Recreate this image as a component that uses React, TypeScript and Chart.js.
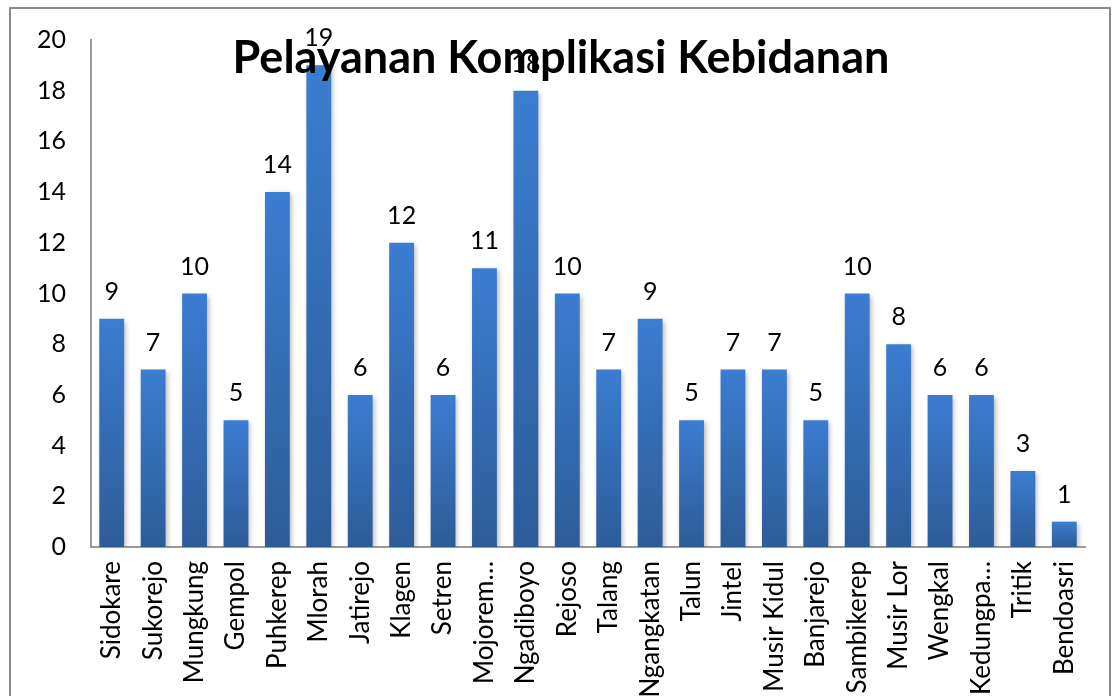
import { useEffect, useRef } from "react";
import { Chart, registerables } from "chart.js";

Chart.register(...registerables);

const categories = [
  "Sidokare", "Sukorejo", "Mungkung", "Gempol", "Puhkerep", "Mlorah", "Jatirejo", "Klagen",
  "Setren", "Mojorem…", "Ngadiboyo", "Rejoso", "Talang", "Ngangkatan", "Talun", "Jintel",
  "Musir Kidul", "Banjarejo", "Sambikerep", "Musir Lor", "Wengkal", "Kedungpa…", "Tritik", "Bendoasri",
];
const values = [9, 7, 10, 5, 14, 19, 6, 12, 6, 11, 18, 10, 7, 9, 5, 7, 7, 5, 10, 8, 6, 6, 3, 1];
const yMin = 0;
const yMax = 20;
const yStep = 2;
const title = "Pelayanan Komplikasi Kebidanan";

const FONT = "Lato, 'Open Sans', sans-serif";

const barShadow = {
  id: "barShadow",
  beforeDatasetsDraw(chart: any) {
    const ctx = chart.ctx;
    ctx.save();
    ctx.shadowColor = "rgba(0,0,0,0.28)";
    ctx.shadowBlur = 5;
    ctx.shadowOffsetX = 2;
    ctx.shadowOffsetY = 2;
  },
  afterDatasetsDraw(chart: any) {
    chart.ctx.restore();
  },
};

const valueLabels = {
  id: "valueLabels",
  afterDatasetsDraw(chart: any) {
    const ctx = chart.ctx;
    const meta = chart.getDatasetMeta(0);
    ctx.save();
    ctx.font = `25px ${FONT}`;
    ctx.fillStyle = "#000";
    ctx.textAlign = "center";
    ctx.textBaseline = "alphabetic";
    meta.data.forEach((bar: any, i: number) => {
      ctx.fillText(String(values[i]), bar.x, bar.y - 19);
    });
    ctx.restore();
  },
};

const overlayTitle = {
  id: "overlayTitle",
  afterDraw(chart: any) {
    const ctx = chart.ctx;
    ctx.save();
    ctx.font = `bold 45px ${FONT}`;
    ctx.fillStyle = "#000";
    ctx.textAlign = "center";
    ctx.textBaseline = "alphabetic";
    ctx.fillText(title, 561, 73);
    ctx.restore();
  },
};

export default function App() {
  const ref = useRef<HTMLCanvasElement>(null);
  useEffect(() => {
    if (!ref.current) return;
    const chart = new Chart(ref.current, {
      type: "bar",
      data: {
        labels: categories,
        datasets: [
          {
            data: values,
            backgroundColor: (c: any) => {
              const ch = c.chart;
              if (!ch.chartArea || c.type !== "data") return "#3570b8";
              const ys = ch.scales.y;
              const top = ys.getPixelForValue(c.raw);
              const base = ys.getPixelForValue(0);
              const g = ch.ctx.createLinearGradient(0, top, 0, base);
              g.addColorStop(0, "#3b7dd1");
              g.addColorStop(1, "#2d5c98");
              return g;
            },
            borderWidth: 0,
            categoryPercentage: 0.6,
            barPercentage: 1,
          },
        ],
      },
      options: {
        animation: false,
        responsive: false,
        layout: { padding: { left: 0, right: 28, top: 38, bottom: 0 } },
        plugins: { legend: { display: false }, title: { display: false }, tooltip: { enabled: false } },
        scales: {
          x: {
            grid: { display: false, drawTicks: false },
            border: { display: true, color: "#9a9a9a", width: 2 },
            ticks: {
              autoSkip: false,
              maxRotation: 90,
              minRotation: 90,
              padding: 14,
              color: "#000",
              font: { family: FONT, size: 26 },
            },
            afterFit(s: any) {
              s.height = 149;
            },
          },
          y: {
            min: yMin,
            max: yMax,
            grid: { display: false, drawTicks: false },
            border: { display: true, color: "#9a9a9a", width: 2 },
            ticks: {
              stepSize: yStep,
              padding: 25,
              color: "#000",
              font: { family: FONT, size: 25 },
            },
            afterFit(s: any) {
              s.width = 91;
            },
          },
        },
      },
      plugins: [barShadow, valueLabels, overlayTitle],
    });
    return () => chart.destroy();
  }, []);

  return (
    <div style={{ position: "absolute", left: 0, top: 0, width: 1113, height: 696, overflow: "hidden", background: "#fff" }}>
      <canvas ref={ref} width={1113} height={696} style={{ position: "absolute", left: 0, top: 0 }} />
      <div
        style={{
          position: "absolute",
          left: 9,
          top: 7,
          width: 1102,
          height: 760,
          border: "2px solid #8a8a8a",
          boxSizing: "border-box",
          pointerEvents: "none",
        }}
      />
    </div>
  );
}
